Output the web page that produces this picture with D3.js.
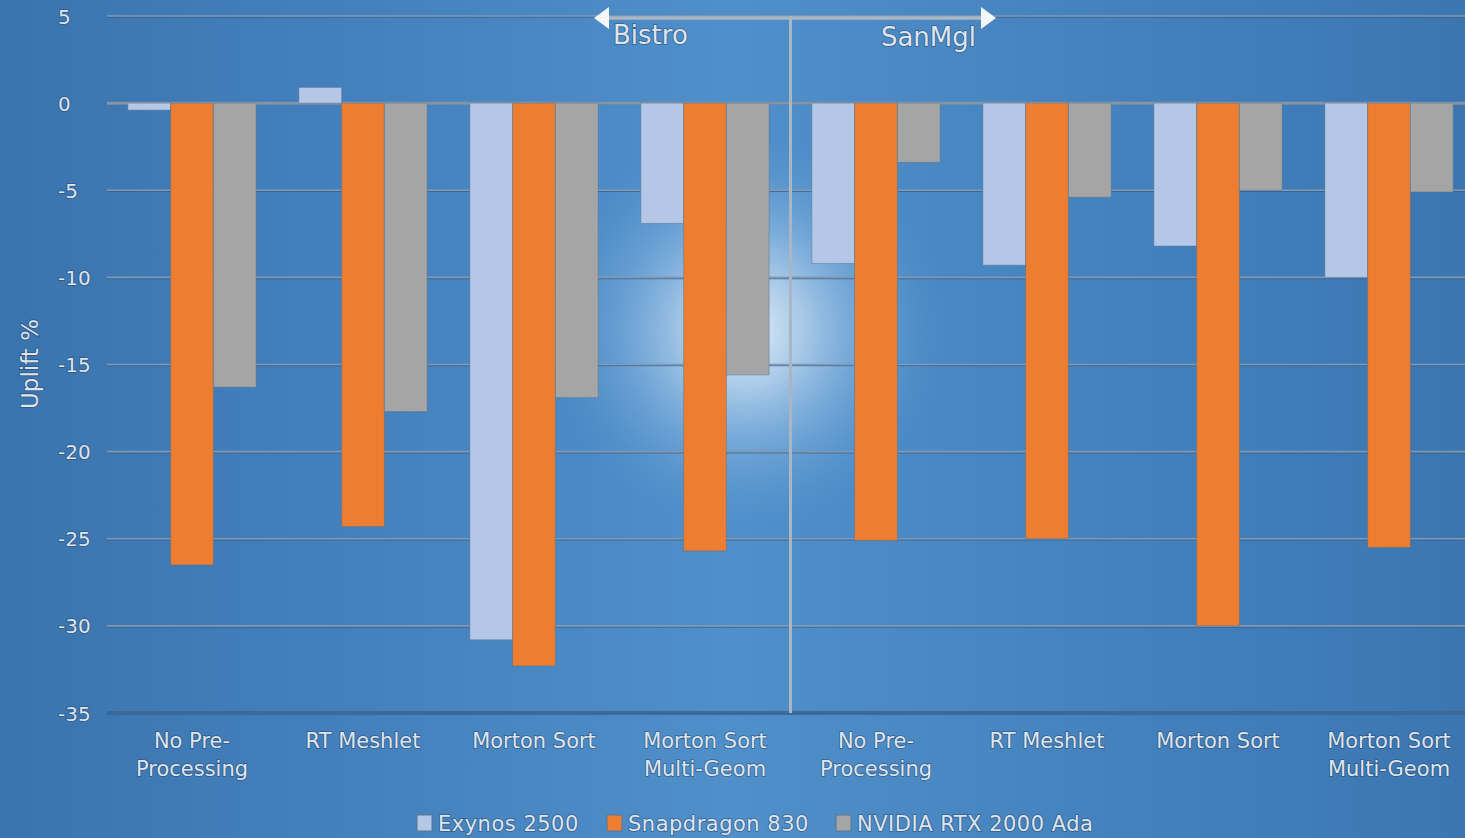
<!DOCTYPE html>
<html>
<head>
<meta charset="utf-8">
<script src="https://cdn.jsdelivr.net/npm/d3@7/dist/d3.min.js"></script>
<style>
  html, body { margin: 0; padding: 0; background: #3f7ab5; }
  svg { display: block; }
  text { font-family: "DejaVu Sans", "Noto Sans", sans-serif; fill: #dfe5ec;
         stroke: rgba(35, 60, 95, 0.55); stroke-width: 1.6px; paint-order: stroke; }
</style>
</head>
<body>
<svg id="chart" width="1465" height="838"></svg>
<script>
// Benchmark groups: scene, then pre-processing variant
const scenes = ["Bistro", "SanMgl"];
const categories = [
  ["No Pre-", "Processing"], ["RT Meshlet"], ["Morton Sort"], ["Morton Sort", "Multi-Geom"],
  ["No Pre-", "Processing"], ["RT Meshlet"], ["Morton Sort"], ["Morton Sort", "Multi-Geom"]
];
const series = ["Exynos 2500", "Snapdragon 830", "NVIDIA RTX 2000 Ada"];
const exynos     = [-0.4,   0.9, -30.8,  -6.9,  -9.2,  -9.3,  -8.2, -10.0];
const snapdragon = [-26.5, -24.3, -32.3, -25.7, -25.1, -25.0, -30.0, -25.5];
const nvidia     = [-16.3, -17.7, -16.9, -15.6,  -3.4,  -5.4,  -5.0,  -5.1];
const yTicks = [5, 0, -5, -10, -15, -20, -25, -30, -35];
const colors = ["#b4c7e7", "#ed7d31", "#a5a5a5"];

const values = [exynos, snapdragon, nvidia];
const rows = categories.map((c, i) => ({ i, label: c, vals: values.map(v => v[i]) }));

const svg = d3.select("#chart");
const W = 1465, H = 838;
const defs = svg.append("defs");

const bg = defs.append("linearGradient").attr("id", "bg").attr("x1", "0").attr("x2", "1").attr("y1", "0").attr("y2", "0");
bg.append("stop").attr("offset", "0%").attr("stop-color", "#3a74af");
bg.append("stop").attr("offset", "50%").attr("stop-color", "#4f8fca");
bg.append("stop").attr("offset", "100%").attr("stop-color", "#3b76b1");

const glow = defs.append("radialGradient").attr("id", "glow").attr("gradientUnits", "userSpaceOnUse")
  .attr("cx", 745).attr("cy", 330).attr("r", 200);
glow.append("stop").attr("offset", "0%").attr("stop-color", "#ffffff").attr("stop-opacity", 0.85);
glow.append("stop").attr("offset", "30%").attr("stop-color", "#e2effb").attr("stop-opacity", 0.6);
glow.append("stop").attr("offset", "65%").attr("stop-color", "#a6cbee").attr("stop-opacity", 0.28);
glow.append("stop").attr("offset", "100%").attr("stop-color", "#6aa4dc").attr("stop-opacity", 0);

svg.append("rect").attr("width", W).attr("height", H).attr("fill", "url(#bg)");
svg.append("rect").attr("width", W).attr("height", H).attr("fill", "url(#glow)");

const x0 = d3.scaleBand().domain(d3.range(categories.length)).range([106.5, 1474.5])
  .paddingInner(0.25).paddingOuter(0.125);
const x1 = d3.scaleBand().domain(d3.range(series.length)).range([0, x0.bandwidth()]);
const y = d3.scaleLinear().domain([-35, 5]).range([713, 16]);

// horizontal gridlines
const grid = svg.append("g");
yTicks.filter(t => t !== -35).forEach(t => {
  grid.append("line").attr("x1", 107).attr("x2", W).attr("y1", y(t) + 1).attr("y2", y(t) + 1)
    .attr("stroke", "#2c5a88").attr("stroke-opacity", 0.65).attr("stroke-width", 1.5);
  grid.append("line").attr("x1", 107).attr("x2", W).attr("y1", y(t)).attr("y2", y(t))
    .attr("stroke", t === 0 ? "#8595a8" : "#8499b0").attr("stroke-width", t === 0 ? 3 : 1.6);
});

// bars
const gBars = svg.append("g");
rows.forEach(r => {
  r.vals.forEach((v, s) => {
    const xx = x0(r.i) + x1(s);
    gBars.append("rect")
      .attr("x", xx).attr("width", x1.bandwidth())
      .attr("y", y(Math.max(0, v))).attr("height", Math.abs(y(v) - y(0)))
      .attr("fill", colors[s])
      .attr("stroke", "#55708c").attr("stroke-opacity", 0.45).attr("stroke-width", 1);
  });
});

// bottom axis line
svg.append("line").attr("x1", 107).attr("x2", W).attr("y1", y(-35)).attr("y2", y(-35))
  .attr("stroke", "#3b6a99").attr("stroke-width", 4);

// y-axis tick labels (plain hyphen minus)
const yAxis = d3.axisLeft(y).tickValues(yTicks).tickSize(0).tickFormat(d => String(d));
const ya = svg.append("g").attr("transform", "translate(58,0)").call(yAxis);
ya.select(".domain").remove();
ya.selectAll("text").attr("text-anchor", "start").attr("x", 0).attr("dy", "0.35em")
  .style("font-size", "20px");

// y-axis title
svg.append("text").attr("transform", "translate(38,364) rotate(-90)")
  .attr("text-anchor", "middle").style("font-size", "23px").text("Uplift %");

// category labels
const xl = svg.append("g");
rows.forEach(r => {
  const t = xl.append("text").attr("x", x0(r.i) + x0.bandwidth() / 2).attr("y", 748)
    .attr("text-anchor", "middle").style("font-size", "21px");
  r.label.forEach((line, k) => {
    t.append("tspan").attr("x", x0(r.i) + x0.bandwidth() / 2).attr("dy", k === 0 ? 0 : 28).text(line);
  });
});

// scene divider and bracket
const midX = (x0(3) + x0.bandwidth() + x0(4)) / 2;
svg.append("line").attr("x1", midX).attr("x2", midX).attr("y1", y(5)).attr("y2", y(-35))
  .attr("stroke", "#aab6c4").attr("stroke-width", 3);
const arrowL = 600, arrowR = 990, arrowY = 18;
svg.append("line").attr("x1", arrowL + 8).attr("x2", arrowR - 8).attr("y1", arrowY).attr("y2", arrowY)
  .attr("stroke", "#aab6c4").attr("stroke-width", 3.5);
svg.append("path").attr("d", `M${arrowL - 6},${arrowY} L${arrowL + 9},${arrowY - 11} L${arrowL + 9},${arrowY + 11} Z`)
  .attr("fill", "#f4f6f8");
svg.append("path").attr("d", `M${arrowR + 6},${arrowY} L${arrowR - 9},${arrowY - 11} L${arrowR - 9},${arrowY + 11} Z`)
  .attr("fill", "#f4f6f8");
svg.append("text").attr("x", 613).attr("y", 44).style("font-size", "26px").text(scenes[0]);
svg.append("text").attr("x", 976).attr("y", 46).attr("text-anchor", "end").style("font-size", "26px").text(scenes[1]);

// legend
const legendX = [417, 607, 836];
series.forEach((name, s) => {
  svg.append("rect").attr("x", legendX[s]).attr("y", 815).attr("width", 15).attr("height", 16)
    .attr("fill", colors[s]).attr("stroke", "#5a7692").attr("stroke-width", 1);
  svg.append("text").attr("x", legendX[s] + 21).attr("y", 831).style("font-size", "21px")
    .style("letter-spacing", "0.5px").text(name);
});
</script>
</body>
</html>
